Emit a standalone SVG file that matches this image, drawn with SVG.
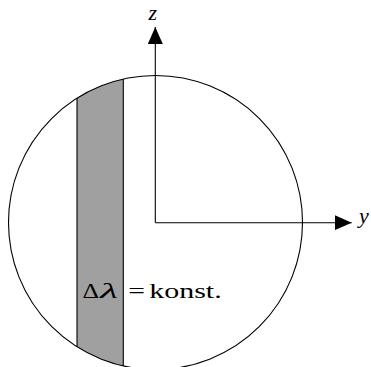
<svg xmlns="http://www.w3.org/2000/svg" width="371" height="367" viewBox="0 0 371 367">
<style>
.ln{stroke:#000;stroke-width:1.1;fill:none}
text{font-family:'Liberation Serif','DejaVu Serif',serif;fill:#000;font-size:22px}
.it{font-style:italic}
</style>
<defs>
<marker id="ah" viewBox="0 0 17 15" refX="17" refY="7.5" markerWidth="17" markerHeight="15" markerUnits="userSpaceOnUse" orient="auto">
<path d="M0,0 L17,7.5 L0,15 Z" fill="#000"/>
</marker>
</defs>
<rect width="371" height="367" fill="#fff"/>
<g id="strip">
<path d="M77,98.2 A147,147 0 0 1 123.3,79.1 L123.3,365.9 A147,147 0 0 1 77,346.8 Z" fill="#a0a0a0" stroke="none"/>
<line class="ln" x1="77" y1="98.2" x2="77" y2="346.8"/>
<line class="ln" x1="123.3" y1="79.1" x2="123.3" y2="365.9"/>
</g>
<g id="sphere">
<circle class="ln" cx="155.5" cy="222.5" r="147"/>
</g>
<g id="axes">
<line class="ln" x1="155.3" y1="222.7" x2="155.3" y2="27" marker-end="url(#ah)"/>
<line class="ln" x1="155.3" y1="222.7" x2="351.7" y2="222.7" marker-end="url(#ah)"/>
</g>
<g id="labels">
<text class="it" x="148.5" y="20">z</text>
<text class="it" x="359" y="223">y</text>
<text x="82.5" y="297.7" font-size="23" textLength="16.5" lengthAdjust="spacingAndGlyphs">Δ</text>
<text class="it" x="100" y="297.7" font-size="23" textLength="18" lengthAdjust="spacingAndGlyphs">λ</text>
<text x="128.3" y="297.7" font-size="22" textLength="16.7" lengthAdjust="spacingAndGlyphs">=</text>
<text x="149.3" y="297.7" textLength="72.4" lengthAdjust="spacingAndGlyphs">konst.</text>
</g>
</svg>
